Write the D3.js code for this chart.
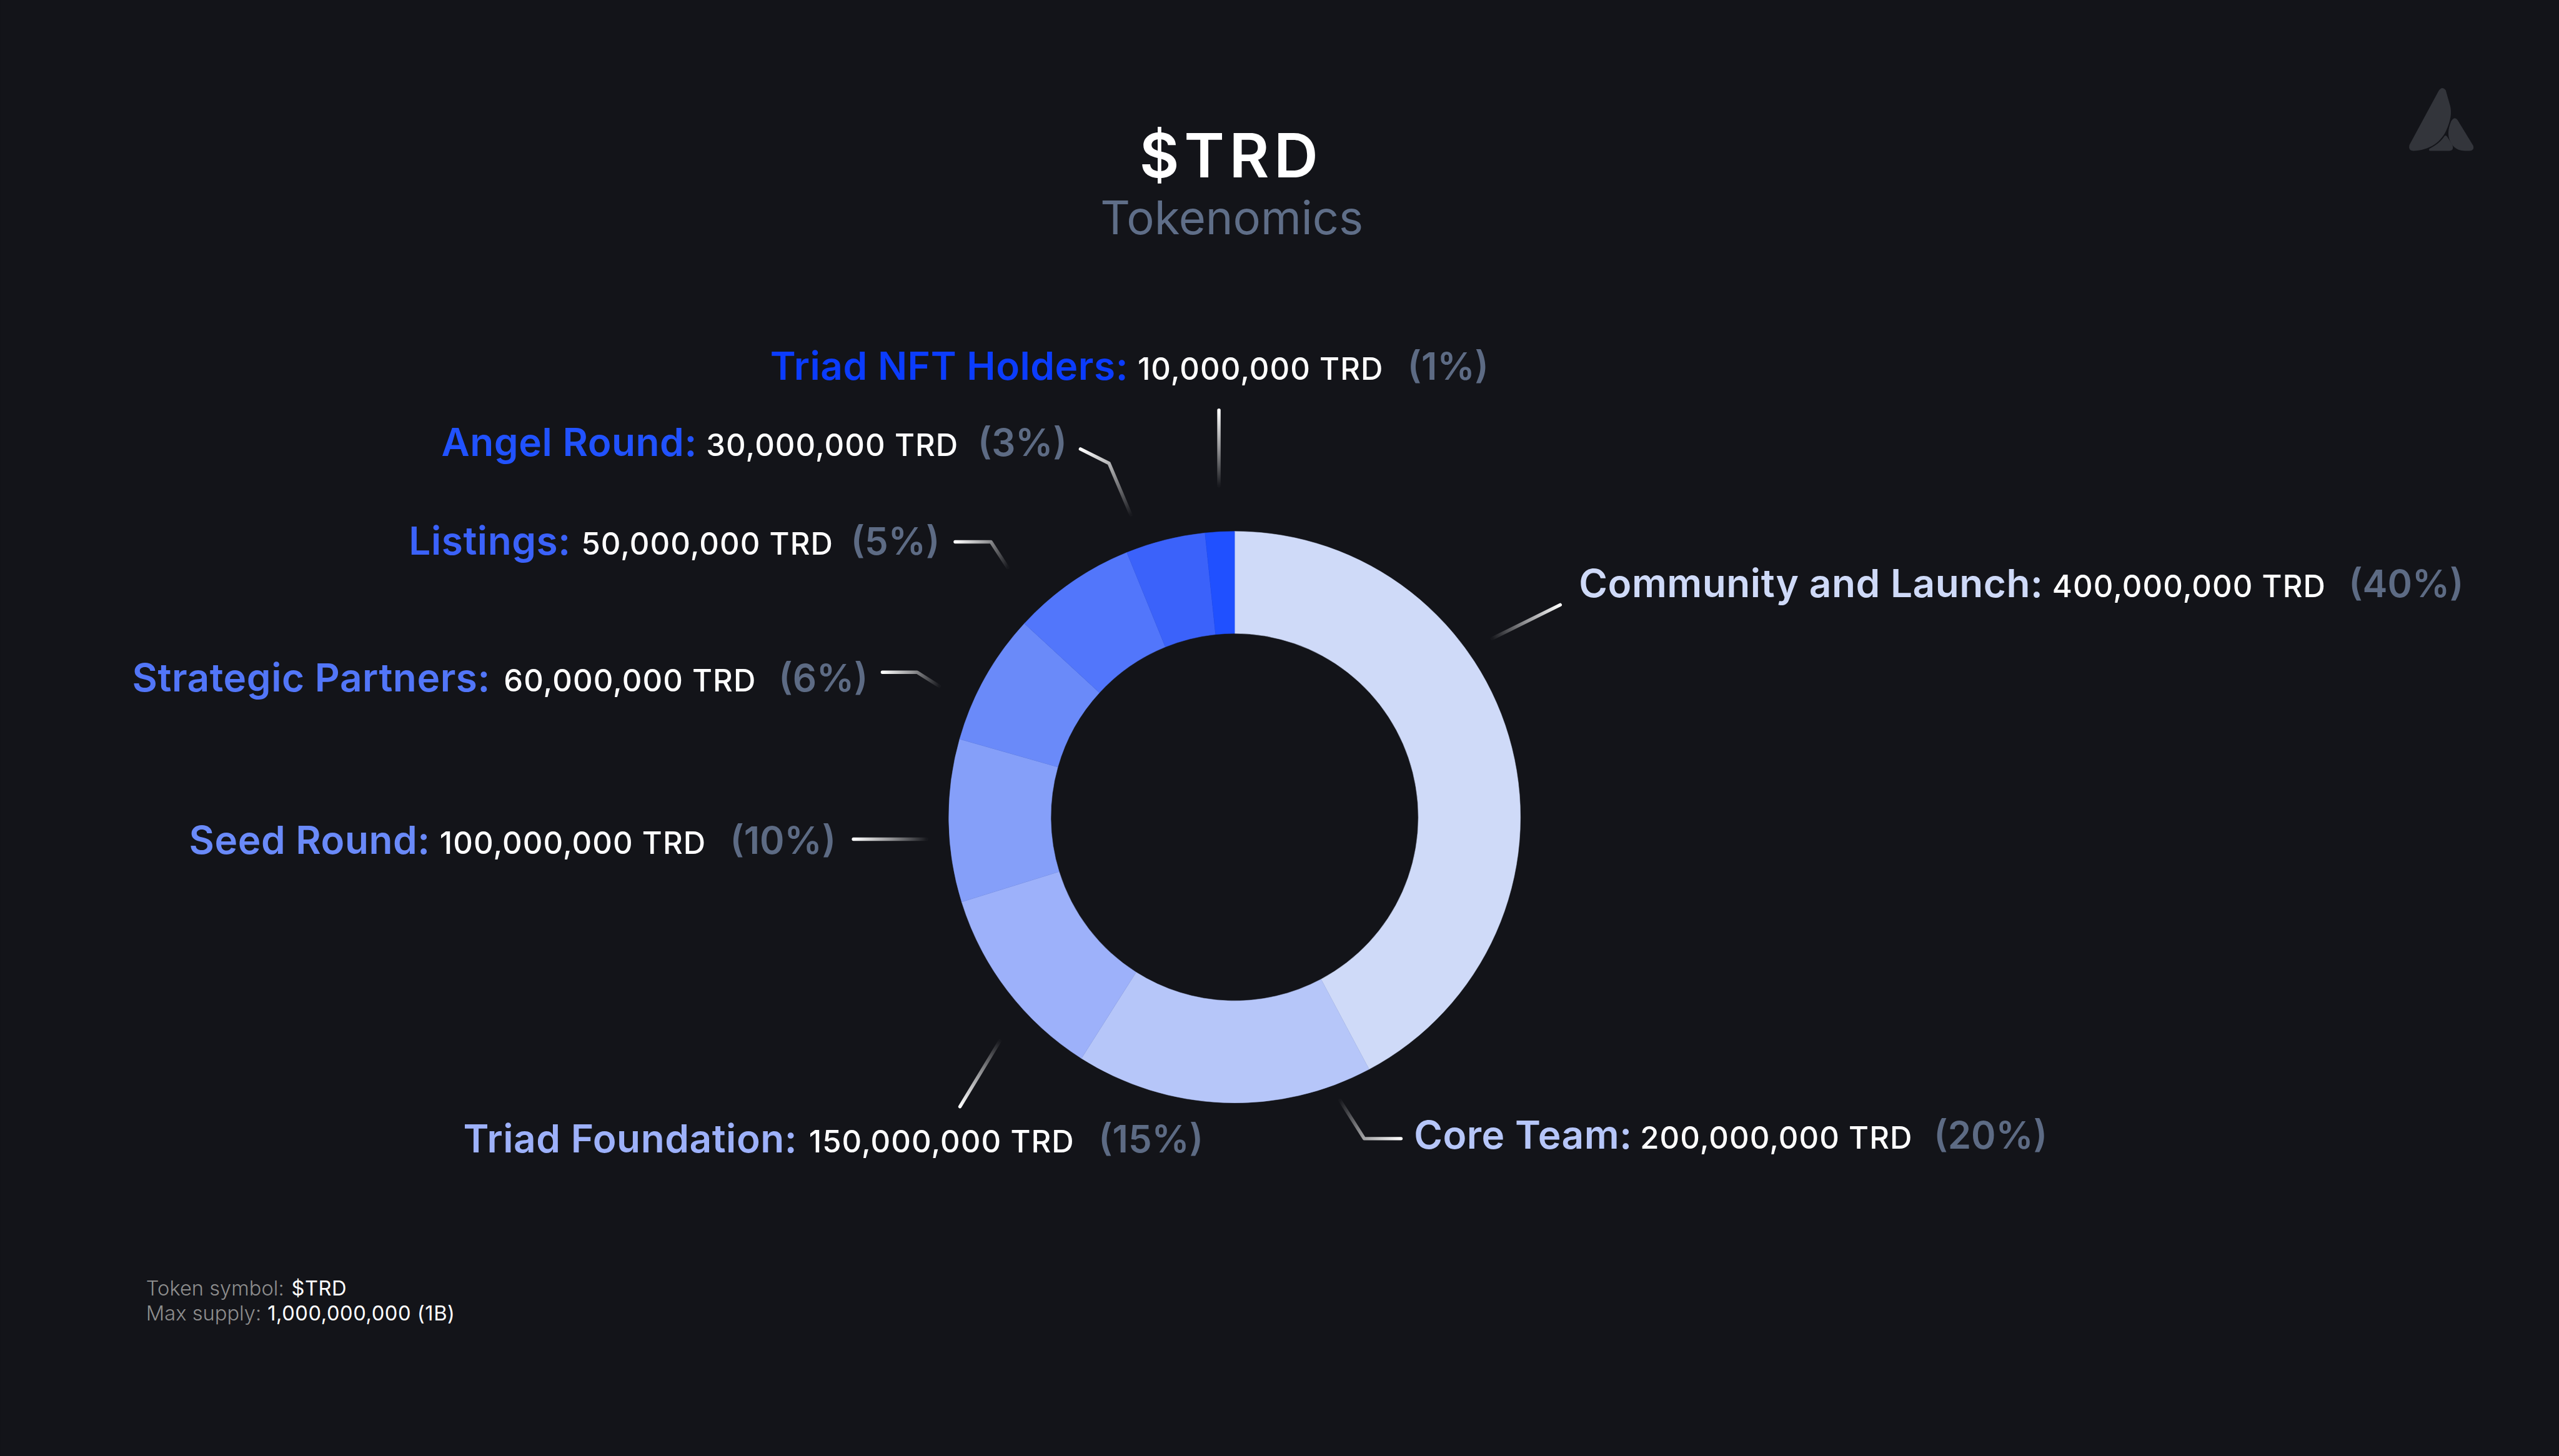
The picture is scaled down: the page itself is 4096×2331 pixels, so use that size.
<!DOCTYPE html>
<html>
<head>
<meta charset="utf-8">
<script src="https://cdn.jsdelivr.net/npm/d3@7"></script>
<style>
  html, body { margin: 0; padding: 0; background: #131419; overflow: hidden; }
  svg { display: block; }
</style>
</head>
<body>
<svg id="chart" width="4096" height="2331" viewBox="0 0 7520 4280"></svg>
<script>
// ---------- DATA ----------
const categories = ["Community and Launch", "Core Team", "Triad Foundation", "Seed Round",
                    "Strategic Partners", "Listings", "Angel Round", "Triad NFT Holders"];
const tokens   = [400000000, 200000000, 150000000, 100000000, 60000000, 50000000, 30000000, 10000000];
const percents = [40, 20, 15, 10, 6, 5, 3, 1];
// slice sizes as they are drawn in the picture (share of the ring, %)
const drawnShares = [42.2, 16.8, 11.2, 9.2, 7.45, 7.0, 4.5, 1.65];
const sliceColors = ["#cfdaf8", "#b6c6f9", "#9db1fa", "#859ff9", "#6a8af9", "#5276fb", "#3b62fa", "#2050ff"];
const labelColors = ["#cfdaf8", "#b6c6f9", "#9db1fa", "#6a8af9", "#5276f8", "#3b62fa", "#2152ff", "#0b3cfd"];
const titleText = "$TRD";
const subtitleText = "Tokenomics";
const footerKeys = ["Token symbol: ", "Max supply: "];
const footerVals = ["$TRD", "1,000,000,000 (1B)"];

// ---------- LAYOUT (reference pixel space 7520x4280) ----------
const W = 7520, H = 4280;
const cx = 3628, cy = 2402, rOuter = 840, rInner = 540;
const layout = [
  { lx: 4640, vx: 6031, px: 6902, y: 1756, line: [[4585,1778],[4385,1877]] },
  { lx: 4155, vx: 4820, px: 5683, y: 3376, line: [[4117,3347],[4009,3347],[3938,3235]] },
  { lx: 1361, vx: 2377, px: 3228, y: 3388, line: [[2821,3253],[2938,3060]] },
  { lx: 555,  vx: 1292, px: 2145, y: 2510, line: [[2508,2467],[2723,2467]] },
  { lx: 388,  vx: 1480, px: 2288, y: 2032, line: [[2593,1976],[2695,1976],[2760,2017]] },
  { lx: 1201, vx: 1708, px: 2500, y: 1631, line: [[2807,1593],[2912,1593],[2961,1668]] },
  { lx: 1297, vx: 2075, px: 2873, y: 1341, line: [[3175,1320],[3259,1362],[3323,1513]] },
  { lx: 2263, vx: 3343, px: 4136, y: 1116, line: [[3582,1206],[3582,1428]] }
];

const data = categories.map((c, i) => ({
  name: c, tokens: tokens[i], pct: percents[i], share: drawnShares[i],
  color: sliceColors[i], lcolor: labelColors[i], lay: layout[i]
}));

const svg = d3.select("#chart");
svg.append("rect").attr("width", W).attr("height", H).attr("fill", "#131419");

const FONT = "Inter, 'Noto Sans', sans-serif";

// ---------- TITLE ----------
svg.append("text").attr("x", 3618).attr("y", 522).attr("text-anchor", "middle")
  .attr("font-family", FONT).attr("font-weight", 600).attr("font-size", 180)
  .attr("letter-spacing", 14).attr("fill", "#ffffff").text(titleText);
svg.append("text").attr("x", 3620).attr("y", 689).attr("text-anchor", "middle")
  .attr("font-family", FONT).attr("font-weight", 400).attr("font-size", 136)
  .attr("fill", "#5f6e88").text(subtitleText);

// ---------- DONUT ----------
const pie = d3.pie().sort(null).value(d => d.share);
const arc = d3.arc().innerRadius(rInner).outerRadius(rOuter);
const g = svg.append("g").attr("transform", `translate(${cx},${cy})`);
g.selectAll("path").data(pie(data)).join("path")
  .attr("d", arc).attr("fill", d => d.data.color)
  .attr("stroke", d => d.data.color).attr("stroke-width", 1);

// ---------- LEADER LINES ----------
const defs = svg.append("defs");
const lineGen = d3.line();
data.forEach((d, i) => {
  const pts = d.lay.line;
  const a = pts[0], b = pts[pts.length - 1];
  const gid = "lg" + i;
  const grad = defs.append("linearGradient").attr("id", gid)
    .attr("gradientUnits", "userSpaceOnUse")
    .attr("x1", a[0]).attr("y1", a[1]).attr("x2", b[0]).attr("y2", b[1]);
  grad.append("stop").attr("offset", 0).attr("stop-color", "#ffffff").attr("stop-opacity", 1);
  grad.append("stop").attr("offset", 0.5).attr("stop-color", "#ffffff").attr("stop-opacity", 0.55);
  grad.append("stop").attr("offset", 1).attr("stop-color", "#ffffff").attr("stop-opacity", 0.02);
  svg.append("path").attr("d", lineGen(pts)).attr("fill", "none")
    .attr("stroke", `url(#${gid})`).attr("stroke-width", 10)
    .attr("stroke-linecap", "round").attr("stroke-linejoin", "round");
});

// ---------- LABELS ----------
const fmt = d3.format(",");
data.forEach(d => {
  svg.append("text").attr("x", d.lay.lx).attr("y", d.lay.y)
    .attr("font-family", FONT).attr("font-weight", 600).attr("font-size", 114)
    .attr("letter-spacing", 1).attr("fill", d.lcolor).text(d.name + ":");
  svg.append("text").attr("x", d.lay.vx).attr("y", d.lay.y)
    .attr("font-family", FONT).attr("font-weight", 500).attr("font-size", 90)
    .attr("letter-spacing", 2).attr("fill", "#ffffff").text(fmt(d.tokens) + " TRD");
  svg.append("text").attr("x", d.lay.px).attr("y", d.lay.y)
    .attr("font-family", FONT).attr("font-weight", 600).attr("font-size", 110)
    .attr("letter-spacing", 0).attr("fill", "#5d6b84").text("(" + d.pct + "%)");
});

// ---------- FOOTER ----------
const footY = [3809, 3881];
const footVX = [856, 786];
footerKeys.forEach((k, i) => {
  svg.append("text").attr("x", 429).attr("y", footY[i])
    .attr("font-family", FONT).attr("font-weight", 300).attr("font-size", 60)
    .attr("fill", "#8e8e8e").text(k);
  svg.append("text").attr("x", footVX[i]).attr("y", footY[i])
    .attr("font-family", FONT).attr("font-weight", 400).attr("font-size", 60)
    .attr("letter-spacing", 1).attr("fill", "#ffffff").text(footerVals[i]);
});

// ---------- LOGO ----------
const logo = svg.append("g").attr("transform", "translate(6950,180) scale(0.3333)").attr("fill", "#33353b");
logo.append("path").attr("d", "M650,262 L392,740 Q380,790 425,790 C560,788 680,720 730,580 C765,490 765,430 745,370 L712,255 Q680,215 650,262 Z");
logo.append("path").attr("d", "M760,530 Q790,480 818,520 L955,745 Q968,790 920,790 L885,790 C800,790 760,740 742,680 C728,630 740,580 760,530 Z");
logo.append("path").attr("d", "M568,772 C620,745 670,710 698,665 Q710,645 725,665 L772,740 Q788,790 745,790 L578,790 Q558,790 568,772 Z");
</script>
</body>
</html>
